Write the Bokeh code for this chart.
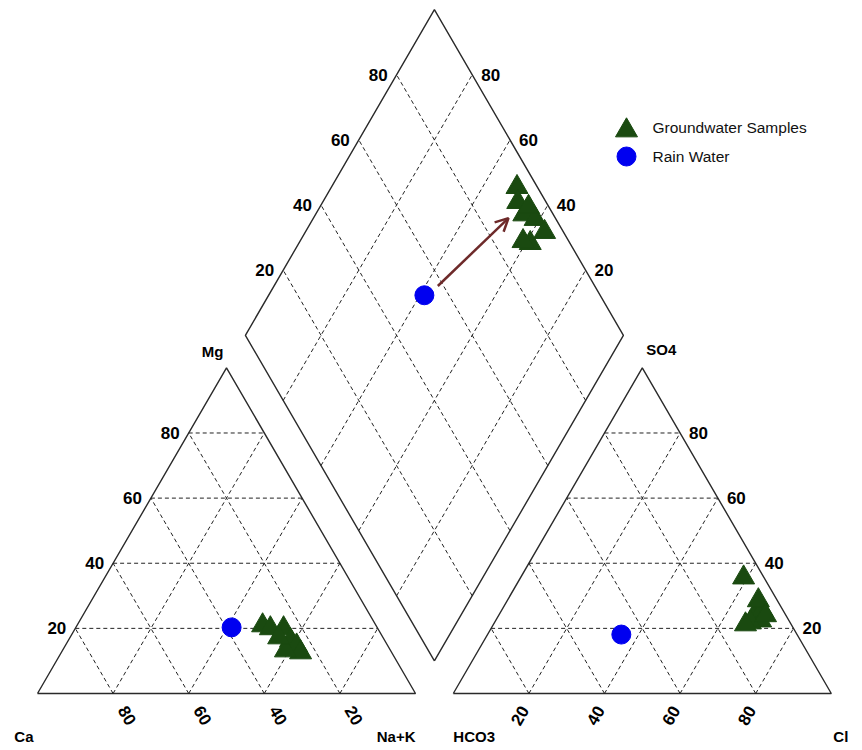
import math
from bokeh.plotting import figure
from bokeh.models import Arrow, OpenHead
from bokeh.embed import file_html
from bokeh.resources import INLINE
from bokeh.core.properties import value

# ---------------- data (percent of meq) ----------------
gw_ca = [30.0, 28.4, 24.9, 24.9, 24.1, 24.1, 27.8, 27.6]
gw_mg = [20.9, 20.0, 20.0, 16.3, 14.7, 12.6, 13.2, 17.2]
gw_nak = [49.1, 51.6, 55.1, 58.8, 61.2, 63.3, 59.0, 55.2]
gw_hco3 = [5.4, 7.5, 7.8, 5.5, 10.5, 5.0, 12.1, 5.4]
gw_so4 = [35.6, 22.4, 24.6, 25.5, 21.8, 28.6, 21.2, 24.0]
gw_cl = [59.0, 70.1, 67.6, 69.0, 67.7, 66.4, 66.7, 70.6]

rain_ca = [38.5]
rain_mg = [20.3]
rain_nak = [41.2]
rain_hco3 = [46.5]
rain_so4 = [18.1]
rain_cl = [35.4]

# evolution arrow: rain water towards this composition in the diamond
arrow_target_nak = 51.6
arrow_target_hco3 = 12.4

ticks = [20, 40, 60, 80]
tick_labels = ["20", "40", "60", "80"]
legend_labels = ["Groundwater Samples", "Rain Water"]

# ---------------- geometry ----------------
S3 = math.sqrt(3) / 2
GAP = 0.1
BX, BY = 1 + GAP / 2, GAP * S3  # bottom vertex of diamond


def cation_xy(nak, mg):
    return ([n / 100 + 0.5 * m / 100 for n, m in zip(nak, mg)],
            [S3 * m / 100 for m in mg])


def anion_xy(cl, so4):
    return ([1 + GAP + c / 100 + 0.5 * s / 100 for c, s in zip(cl, so4)],
            [S3 * s / 100 for s in so4])


def diamond_xy(nak, hco3):
    xs, ys = [], []
    for n, h in zip(nak, hco3):
        a = 1 - n / 100
        b = 1 - h / 100
        xs.append(BX + 0.5 * (b - a))
        ys.append(BY + S3 * (a + b))
    return xs, ys


SX, SY = 378.0, 376.0
W, H = 862, 750
x0 = -37.0 / SX
y1 = 693.0 / SY
p = figure(width=W, height=H, output_backend="svg", toolbar_location=None,
           x_range=(x0, x0 + W / SX), y_range=(y1 - H / SY, y1),
           x_axis_type=None, y_axis_type=None, min_border=0)
p.grid.visible = False
p.outline_line_color = None
p.background_fill_color = "white"

OUT = dict(line_color="#2a2a2a", line_width=1.4)
DASH = dict(line_color="#222222", line_width=1, line_dash="4 3")

# outlines
p.line([0, 1, 0.5, 0], [0, 0, S3, 0], **OUT)
p.line([1 + GAP, 2 + GAP, 1.5 + GAP, 1 + GAP], [0, 0, S3, 0], **OUT)
p.line([BX, BX - 0.5, BX, BX + 0.5, BX], [BY, BY + S3, BY + 2 * S3, BY + S3, BY], **OUT)

# grids
gx, gy = [], []
for t in ticks:
    f = t / 100
    for off in (0, 1 + GAP):
        gx.append([off + 0.5 * f, off + 1 - 0.5 * f]); gy.append([S3 * f, S3 * f])
        gx.append([off + f, off + f + 0.5 * (1 - f)]); gy.append([0, S3 * (1 - f)])
        gx.append([off + 1 - f, off + 0.5 * (1 - f)]); gy.append([0, S3 * (1 - f)])
    # diamond
    gx.append([BX - 0.5 * f, BX - 0.5 * f + 0.5]); gy.append([BY + S3 * f, BY + S3 * f + S3])
    gx.append([BX + 0.5 * f, BX + 0.5 * f - 0.5]); gy.append([BY + S3 * f, BY + S3 * f + S3])
p.multi_line(gx, gy, **DASH)

TF = value("Liberation Sans")
num_style = dict(text_font=TF, text_font_size="17px", text_font_style="bold", text_color="black")

# cation: Mg on left edge
p.text([0.5 * t / 100 for t in ticks], [S3 * t / 100 for t in ticks], text=tick_labels,
       text_align="right", text_baseline="middle", x_offset=-9, **num_style)
# cation: Ca along base
p.text([1 - t / 100 for t in ticks], [0] * 4, text=tick_labels, angle=-math.pi / 3,
       text_align="center", text_baseline="middle", x_offset=14, y_offset=22, **num_style)
# anion: SO4 on right edge
p.text([2 + GAP - 0.5 * t / 100 for t in ticks], [S3 * t / 100 for t in ticks], text=tick_labels,
       text_align="left", text_baseline="middle", x_offset=9, **num_style)
# anion: Cl along base
p.text([1 + GAP + t / 100 for t in ticks], [0] * 4, text=tick_labels, angle=math.pi / 3,
       text_align="center", text_baseline="middle", x_offset=-9, y_offset=22, **num_style)
# diamond upper-left edge (SO4+Cl) and upper-right edge (Ca+Mg)
p.text([BX - 0.5 + 0.5 * t / 100 for t in ticks], [BY + S3 + S3 * t / 100 for t in ticks],
       text=tick_labels, text_align="right", text_baseline="middle", x_offset=-9, **num_style)
p.text([BX + 0.5 - 0.5 * t / 100 for t in ticks], [BY + S3 + S3 * t / 100 for t in ticks],
       text=tick_labels, text_align="left", text_baseline="middle", x_offset=9, **num_style)

name_style = dict(text_font=TF, text_font_size="15px", text_font_style="bold", text_color="black",
                  text_baseline="middle")
p.text([0.5], [S3], text=["Mg"], text_align="right", x_offset=-3, y_offset=-16, **name_style)
p.text([1.5 + GAP], [S3], text=["SO4"], text_align="left", x_offset=4, y_offset=-18, **name_style)
p.text([0], [0], text=["Ca"], text_align="right", x_offset=-4, y_offset=43, **name_style)
p.text([1], [0], text=["Na+K"], text_align="right", x_offset=0, y_offset=43, **name_style)
p.text([1 + GAP], [0], text=["HCO3"], text_align="left", x_offset=0, y_offset=43, **name_style)
p.text([2 + GAP], [0], text=["Cl"], text_align="left", x_offset=2, y_offset=43, **name_style)

GREEN = "#1a4a10"
BLUE = "#0000f0"
TRI = dict(marker="triangle", size=22, fill_color=GREEN, line_color=GREEN)
CIR = dict(marker="circle", size=19, fill_color=BLUE, line_color=BLUE)

# arrow in the diamond
rx, ry = diamond_xy(rain_nak, rain_hco3)
tx, ty = diamond_xy([arrow_target_nak], [arrow_target_hco3])
sx0 = rx[0] + 0.16 * (tx[0] - rx[0])
sy0 = ry[0] + 0.12 * (ty[0] - ry[0])
ARC = "#6e2a2a"
p.add_layout(Arrow(x_start=sx0, y_start=sy0, x_end=tx[0], y_end=ty[0], line_color=ARC, line_width=2.5,
                   end=OpenHead(size=13, line_color=ARC, line_width=2.5)))

for fn, a1, a2 in ((cation_xy, gw_nak, gw_mg), (anion_xy, gw_cl, gw_so4), (diamond_xy, gw_nak, gw_hco3)):
    xs, ys = fn(a1, a2)
    p.scatter(xs, ys, **TRI)
for fn, a1, a2 in ((cation_xy, rain_nak, rain_mg), (anion_xy, rain_cl, rain_so4), (diamond_xy, rain_nak, rain_hco3)):
    xs, ys = fn(a1, a2)
    p.scatter(xs, ys, **CIR)

# legend (drawn manually, top right)
lx = x0 + 626 / SX
ly_gw = y1 - 130 / SY
ly_rw = y1 - 156 / SY
p.scatter([lx], [ly_gw], **TRI)
p.scatter([lx], [ly_rw], **CIR)
p.text([lx, lx], [ly_gw, ly_rw], text=legend_labels, x_offset=26, y_offset=[-3, 0],
       text_font=TF, text_font_size="15.5px", text_color="#111111", text_baseline="middle",
       text_align="left")

open("out.html", "w").write(file_html(p, INLINE))
